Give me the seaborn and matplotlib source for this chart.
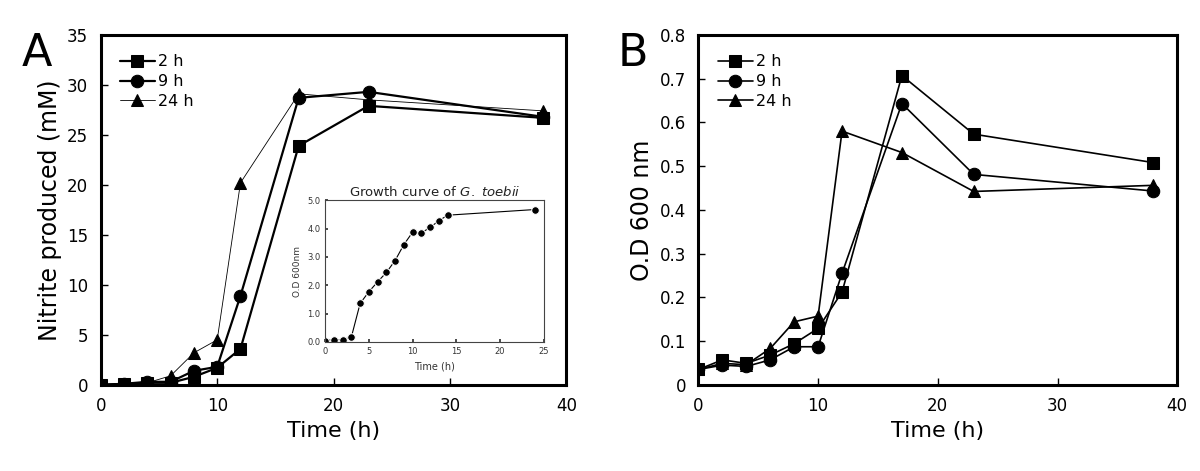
import numpy as np
import pandas as pd
import matplotlib
matplotlib.use("Agg")
import matplotlib.pyplot as plt
import seaborn as sns

sns.set_theme(style="ticks")
plt.rcParams["font.family"] = ["DejaVu Sans"]
plt.rcParams["text.color"] = "black"
plt.rcParams["axes.labelcolor"] = "black"
plt.rcParams["xtick.color"] = "black"
plt.rcParams["ytick.color"] = "black"

# Datos
time_h = [0, 2, 4, 6, 8, 10, 12, 17, 23, 38]
series_names = ["2 h", "9 h", "24 h"]

nitrite_2h = [0.0, 0.1, 0.2, 0.2, 0.8, 1.7, 3.6, 23.9, 27.9, 26.7]
nitrite_9h = [0.0, 0.1, 0.3, 0.3, 1.4, 1.8, 8.9, 28.7, 29.3, 26.8]
nitrite_24h = [0.0, 0.1, 0.2, 0.9, 3.2, 4.5, 20.2, 29.1, 28.5, 27.4]

od_2h = [0.035, 0.057, 0.049, 0.068, 0.094, 0.129, 0.212, 0.707, 0.573, 0.508]
od_9h = [0.035, 0.045, 0.042, 0.057, 0.087, 0.087, 0.255, 0.643, 0.481, 0.443]
od_24h = [0.035, 0.049, 0.046, 0.083, 0.144, 0.157, 0.580, 0.531, 0.442, 0.456]

growth_time = [0, 1, 2, 3, 4, 5, 6, 7, 8, 9, 10, 11, 12, 13, 14, 24]
growth_od = [0.05, 0.08, 0.08, 0.18, 1.36, 1.77, 2.12, 2.45, 2.87, 3.43,
             3.87, 3.84, 4.04, 4.27, 4.47, 4.67]

markers = {"2 h": "s", "9 h": "o", "24 h": "^"}


def long_df(values):
    rows = []
    for name, vals in zip(series_names, values):
        for t, v in zip(time_h, vals):
            rows.append({"time": t, "value": v, "series": name})
    return pd.DataFrame(rows)


def draw_panel(ax, df, widths):
    for name in series_names:
        sub = df[df["series"] == name]
        sns.lineplot(
            data=sub, x="time", y="value", ax=ax,
            color="black", marker=markers[name], markersize=9,
            markeredgecolor="black", linewidth=widths[name], label=name
        )
    ax.set_xlim(0, 40)
    ax.set_xticks([0, 10, 20, 30, 40])
    for s in ax.spines.values():
        s.set_linewidth(2.2)
        s.set_color("black")
    ax.tick_params(direction="in", length=5, width=1, labelsize=12, pad=9)
    ax.set_xlabel("Time (h)", fontsize=16)
    ax.legend(loc="upper left", frameon=False, fontsize=11.5,
              handlelength=2.2, handletextpad=0.2, labelspacing=0.3,
              bbox_to_anchor=(0.01, 0.985))


fig = plt.figure(figsize=(12, 4.71), dpi=100)

# Panel A
ax_a = fig.add_axes([0.084, 0.183, 0.388, 0.743])
draw_panel(ax_a, long_df([nitrite_2h, nitrite_9h, nitrite_24h]),
           {"2 h": 1.6, "9 h": 1.6, "24 h": 0.6})
ax_a.set_ylim(0, 35)
ax_a.set_yticks(range(0, 36, 5))
ax_a.set_yticklabels([str(v) for v in range(0, 36, 5)])
ax_a.set_ylabel("Nitrite produced (mM)", fontsize=17)
fig.text(0.018, 0.86, "A", fontsize=32)

# Inset curva de crecimiento
ax_in = fig.add_axes([0.271, 0.274, 0.182, 0.301])
sns.lineplot(x=growth_time, y=growth_od, ax=ax_in, color="black",
             marker="o", markersize=5.5, linewidth=0.8)
ax_in.set_xlim(0, 25)
ax_in.set_ylim(0, 5)
ax_in.set_xticks([0, 5, 10, 15, 20, 25])
ax_in.set_yticks([0, 1, 2, 3, 4, 5])
ax_in.set_yticklabels([f"{v:.1f}" for v in [0, 1, 2, 3, 4, 5]])
ax_in.tick_params(direction="in", length=2, labelsize=6, colors="#333333")
for s in ax_in.spines.values():
    s.set_linewidth(0.8)
    s.set_color("#444444")
ax_in.set_xlabel("Time (h)", fontsize=7, color="#333333")
ax_in.set_ylabel("O.D 600nm", fontsize=6.5, color="#333333")
ax_in.set_title("Growth curve of $\\mathit{G.\\ toebii}$", fontsize=9.5,
                pad=3, color="#222222")

# Panel B
ax_b = fig.add_axes([0.582, 0.183, 0.399, 0.743])
draw_panel(ax_b, long_df([od_2h, od_9h, od_24h]),
           {"2 h": 1.2, "9 h": 1.2, "24 h": 1.2})
ax_b.set_ylim(0, 0.8)
ax_b.set_yticks(np.arange(0, 0.81, 0.1))
ax_b.set_yticklabels(["0"] + [f"{v:.1f}" for v in np.arange(0.1, 0.81, 0.1)])
ax_b.set_ylabel("O.D 600 nm", fontsize=17)
fig.text(0.515, 0.86, "B", fontsize=32)

fig.savefig("out.png", dpi=100)
